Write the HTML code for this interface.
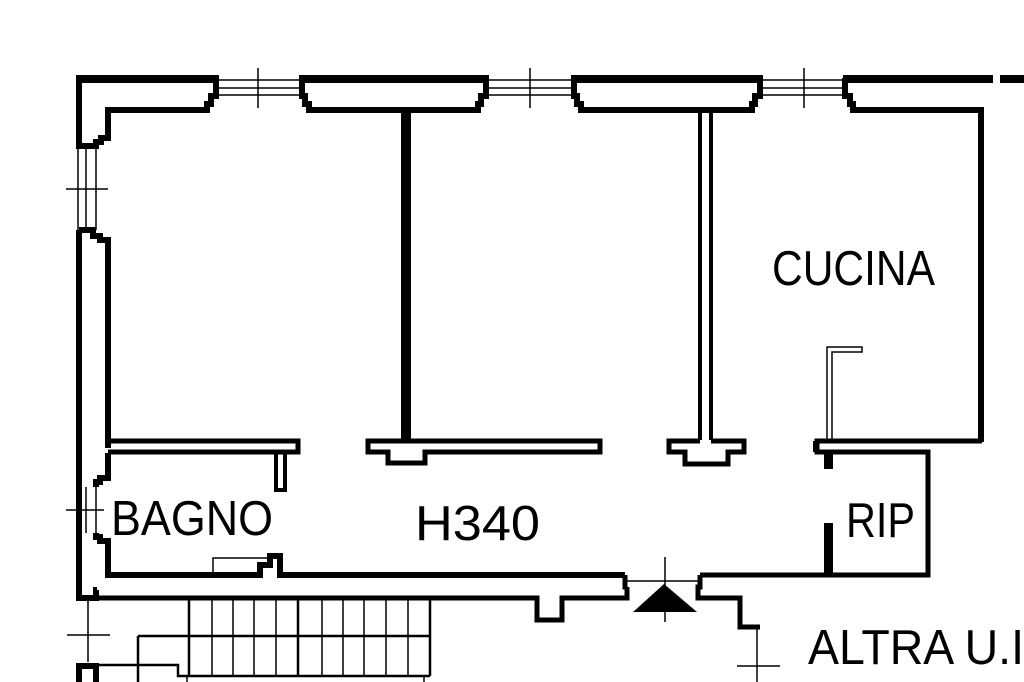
<!DOCTYPE html>
<html><head><meta charset="utf-8"><style>
html,body{margin:0;padding:0;background:#fff;width:1024px;height:682px;overflow:hidden}
text{font-family:"Liberation Sans",sans-serif;fill:#000}
</style></head><body>
<svg width="1024" height="682" viewBox="0 0 1024 682" xmlns="http://www.w3.org/2000/svg">
<g fill="none" stroke="#000" stroke-linejoin="miter">
<path d="M79,146 V78 H216 V96 H211 V104 H207 V110 H108 V138 H101 V142 H96 V146 Z" stroke-width="6" fill="none"/>
<rect x="76" y="75" width="142" height="8" fill="#000" stroke="none"/>
<path d="M302,78 H486 V96 H481 V104 H478 V110 H309 V104 H305 V96 H302 Z" stroke-width="6"/>
<rect x="300" y="75" width="188" height="8" fill="#000" stroke="none"/>
<path d="M574,78 H760 V96 H755 V104 H752 V110 H581 V104 H577 V96 H574 Z" stroke-width="6"/>
<rect x="572" y="75" width="190" height="8" fill="#000" stroke="none"/>
<path d="M845,78 V96 H850 V104 H853 V110 H981 V442" stroke-width="6"/>
<rect x="843" y="75" width="150" height="8" fill="#000" stroke="none"/>
<rect x="1000" y="75" width="24" height="8" fill="#000" stroke="none"/>
<g stroke-width="1.5">
<path d="M218,80 H300 M218,88 H300 M218,95 H300 M258,68 V108"/>
<path d="M488,80 H572 M488,88 H572 M488,95 H572 M530,68 V108"/>
<path d="M762,80 H843 M762,88 H843 M762,95 H843 M804,68 V108"/>
<path d="M78,146 V230 M86,146 V230 M96,146 V230 M66,189 H108"/>
<path d="M78,487 V533 M86,487 V533 M96,487 V533 M66,510 H104"/>
<path d="M88,600 V662 M67,635 H110"/>
</g>
<path d="M79,230 V598 H96 V590 H97" stroke-width="6"/>
<path d="M79,230 H93 V236 H100 V240 H108 V448" stroke-width="6"/>
<path d="M108,453 V478 H100 V482 H96 V487" stroke-width="6"/>
<path d="M96,533 V537 H100 V541 H108 V575 H260 V565 H270 V556 H280 V575 H625" stroke-width="6"/>
<rect x="401" y="110" width="10" height="332" fill="#000" stroke="none"/>
<path d="M700,110 V440 M711,110 V440" stroke-width="4"/>
<path d="M108,441 H298 V452 H108" stroke-width="5"/>
<path d="M276,452 V490 H285 V452" stroke-width="4"/>
<path d="M600,441 H368 V452 H388 V463 H425 V452 H600 Z" stroke-width="5"/>
<path d="M700,441 H669 V452 H685 V464 H728 V452 H744 V441 H711" stroke-width="5"/>
<path d="M982,441 H817 V452 H928 V575 H700" stroke-width="5"/>
<path d="M815,452 V441" stroke-width="4"/>
<rect x="824" y="452" width="9" height="17" fill="#000" stroke="none"/>
<rect x="824" y="523" width="9" height="52" fill="#000" stroke="none"/>
<path d="M827,441 V347 H862 V352 H832 V441" stroke-width="1.5"/>
<path d="M213,573 V558 H270" stroke-width="1.5"/>
<path d="M625,575 V587 H627" stroke-width="5"/>
<path d="M97,598 H537 V620 H562 V598 H627 V587" stroke-width="5"/>
<path d="M700,575 V587 H698 V598 H740 V627 H760" stroke-width="5"/>
<path d="M627,581 H700" stroke-width="1.5"/>
<path d="M665,557 V622 M757,628 V682 M737,666 H780" stroke-width="1.5"/>
<path d="M79,682 V666 H96 V682" stroke-width="6"/>
<path d="M96,665 H178 V676 H430" stroke-width="2.5"/>
<path d="M189,598 V676 M430,598 V676 M298,598 V676 M138,636 H430 M138,636 V682" stroke-width="2.5"/>
<path d="M212,598 V676 M233,598 V676 M254,598 V676 M276,598 V676 M322,598 V676 M343,598 V676 M364,598 V676 M386,598 V676 M408,598 V676" stroke-width="1.5"/>
<path d="M187,676 V682 M424,676 V682" stroke-width="1.5"/>
</g>
<polygon points="664,584 633,612 697,612" fill="#000"/>
<text x="772" y="285" font-size="49" textLength="163" lengthAdjust="spacingAndGlyphs">CUCINA</text>
<text x="111" y="535" font-size="49" textLength="162" lengthAdjust="spacingAndGlyphs">BAGNO</text>
<text x="415" y="540" font-size="49" textLength="125" lengthAdjust="spacingAndGlyphs">H340</text>
<text x="846" y="537" font-size="49" textLength="69" lengthAdjust="spacingAndGlyphs">RIP</text>
<text x="808" y="664" font-size="49" textLength="216" lengthAdjust="spacingAndGlyphs">ALTRA U.I</text>
</svg>
</body></html>
